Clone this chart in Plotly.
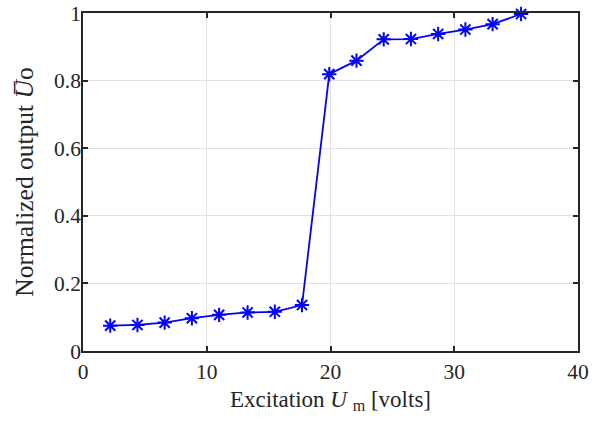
import plotly.graph_objects as go

# Measured excitation amplitude (volts) and normalized output
excitation = [2.2, 4.4, 6.6, 8.8, 11.0, 13.3, 15.5, 17.7,
              19.9, 22.1, 24.3, 26.5, 28.7, 30.9, 33.1, 35.4]
norm_output = [0.075, 0.077, 0.084, 0.097, 0.107, 0.114, 0.116, 0.136,
               0.819, 0.859, 0.922, 0.923, 0.938, 0.951, 0.967, 0.997]

x_ticks = [0, 10, 20, 30, 40]
y_ticks = [0, 0.2, 0.4, 0.6, 0.8, 1]
y_tick_text = ["0", "0.2", "0.4", "0.6", "0.8", "1"]

FONT = "Liberation Serif, Times New Roman, serif"
AXIS_COLOR = "#262626"
TEXT_COLOR = "#262626"

fig = go.Figure()
fig.add_trace(go.Scatter(
    x=excitation, y=norm_output,
    mode="lines+markers",
    line=dict(color="#0000ff", width=1.8),
    marker=dict(symbol="asterisk-open", size=12,
                color="#0000ff", line=dict(color="#0000ff", width=2)),
    showlegend=False,
    cliponaxis=False,
))

axis_common = dict(
    showline=True, linecolor=AXIS_COLOR, linewidth=1.5, mirror="ticks",
    ticks="inside", ticklen=5, tickwidth=1.5, tickcolor=AXIS_COLOR,
    showgrid=True, gridcolor="#e2e2e2", gridwidth=1,
    zeroline=False, automargin=False,
    tickfont=dict(family=FONT, size=21.5, color=TEXT_COLOR),
)

fig.update_xaxes(
    range=[0, 40], tickvals=x_ticks,
    title=dict(text="Excitation <i>U</i> <sub>m</sub> [volts]",
               font=dict(family=FONT, size=23, color=TEXT_COLOR),
               standoff=8),
    **axis_common,
)
fig.update_yaxes(
    range=[0, 1], tickvals=y_ticks, ticktext=y_tick_text,
    ticklabelstandoff=-4,
    title=dict(text="Normalized output <i>U\u0305</i>o",
               font=dict(family=FONT, size=25.5, color=TEXT_COLOR),
               standoff=13),
    **axis_common,
)

fig.update_layout(
    width=616, height=423,
    margin=dict(l=83, r=38, t=13, b=72),
    paper_bgcolor="white", plot_bgcolor="white",
    font=dict(family=FONT),
)

fig.write_html("out.html")
